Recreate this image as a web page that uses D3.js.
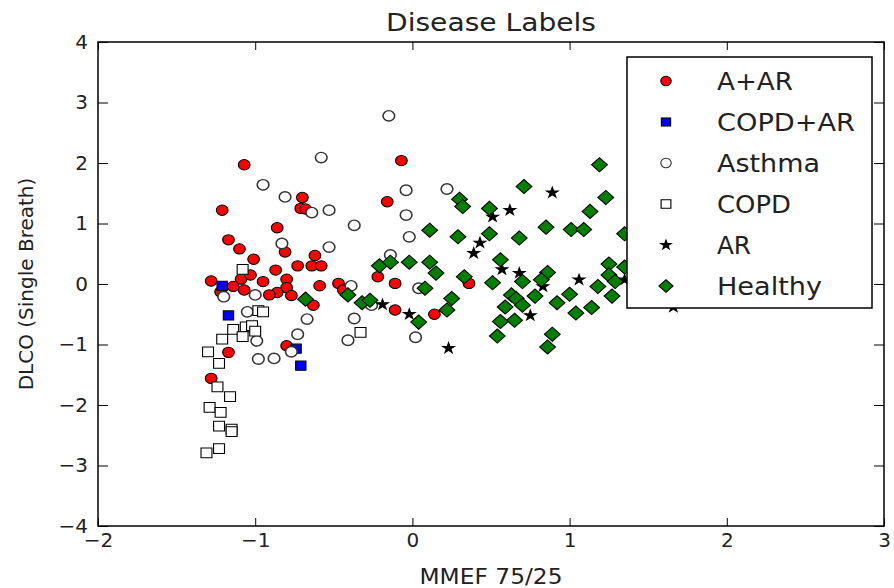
<!DOCTYPE html>
<html>
<head>
<meta charset="utf-8">
<script src="https://cdn.jsdelivr.net/npm/d3@7"></script>
<style>
    body { margin: 0; background: #fff; }
    svg { display: block; font-family: "DejaVu Sans", sans-serif; }
</style>
</head>
<body>
<div id="chart"></div>
<script>
// values: [MMEF 75/25, DLCO]
const aPlusAR = [[-1.07,1.97],[-0.70,1.43],[-0.71,1.25],[-0.68,1.24],[-1.21,1.22],[-0.86,0.93],[-1.17,0.73],[-1.10,0.58],[-0.81,0.53],[-1.01,0.41],[-0.62,0.47],[-0.73,0.30],[-0.64,0.30],[-0.58,0.30],[-0.87,0.23],[-1.28,0.05],[-1.09,0.08],[-1.03,0.15],[-0.80,0.08],[-0.80,-0.06],[-0.59,-0.03],[-0.47,0.01],[-1.07,-0.10],[-0.86,-0.14],[-0.77,-0.19],[-1.22,-0.13],[-0.91,-0.18],[-1.14,-0.04],[-0.95,0.04],[-0.63,-0.35],[-0.80,-1.02],[-1.17,-1.13],[-1.28,-1.56],[-0.07,2.04],[-0.16,1.36],[-0.22,0.12],[-0.11,0.01],[-0.44,-0.10],[-0.11,-0.43],[0.14,-0.50],[0.36,0.01]];
const copdPlusAR = [[-1.21,-0.03],[-1.17,-0.52],[-0.74,-1.07],[-0.71,-1.35]];
const asthma = [[-0.58,2.09],[-0.95,1.64],[-0.81,1.44],[-0.64,1.18],[-0.53,1.22],[-0.37,0.97],[-0.83,0.67],[-0.53,0.61],[-0.39,-0.03],[-1.00,-0.18],[-1.20,-0.21],[-1.05,-0.46],[-0.67,-0.58],[-0.37,-0.57],[-0.41,-0.93],[-0.99,-0.94],[-0.73,-0.83],[-0.77,-1.12],[-0.98,-1.24],[-0.88,-1.23],[-0.15,2.78],[-0.04,1.55],[0.22,1.57],[-0.04,1.14],[-0.02,0.78],[-0.14,0.48],[-0.26,-0.35],[0.04,-0.07],[0.02,-0.88]];
const copd = [[-1.08,0.24],[-0.98,-0.44],[-0.95,-0.46],[-0.33,-0.80],[-1.14,-0.75],[-1.06,-0.71],[-1.02,-0.69],[-1.00,-0.78],[-1.08,-0.87],[-1.21,-0.91],[-1.30,-1.12],[-1.23,-1.31],[-1.24,-1.70],[-1.16,-1.86],[-1.29,-2.04],[-1.22,-2.12],[-1.23,-2.35],[-1.15,-2.40],[-1.15,-2.44],[-1.23,-2.72],[-1.31,-2.79]];
const ar = [[0.51,1.11],[0.62,1.22],[0.43,0.68],[0.39,0.51],[0.57,0.24],[-0.19,-0.34],[-0.02,-0.50],[0.23,-1.06],[0.68,0.18],[0.89,1.51],[0.83,-0.04],[1.06,0.07],[0.75,-0.52],[1.35,0.07],[1.66,-0.38]];
const healthy = [[-0.68,-0.25],[-0.41,-0.18],[-0.32,-0.31],[-0.27,-0.27],[-0.21,0.30],[-0.14,0.36],[-0.02,0.36],[0.11,0.36],[0.15,0.18],[0.30,1.40],[0.32,1.28],[0.49,1.25],[0.71,1.61],[0.11,0.89],[0.29,0.78],[0.49,0.83],[0.68,0.76],[0.56,0.40],[0.08,-0.07],[0.04,-0.63],[0.25,-0.24],[0.22,-0.43],[0.33,0.12],[0.51,0.02],[0.70,0.04],[0.63,-0.18],[0.66,-0.24],[0.59,-0.38],[0.70,-0.35],[0.65,-0.60],[0.56,-0.62],[0.54,-0.86],[1.19,1.97],[1.23,1.43],[1.13,1.20],[0.85,0.94],[1.01,0.90],[1.09,0.90],[1.35,0.83],[0.86,0.19],[0.82,0.07],[1.25,0.33],[1.25,0.15],[1.29,0.04],[1.18,-0.04],[1.27,-0.20],[1.35,0.28],[0.78,-0.20],[1.00,-0.17],[0.92,-0.31],[1.14,-0.39],[1.04,-0.48],[0.89,-0.83],[0.86,-1.04]];

const labels = ["A+AR", "COPD+AR", "Asthma", "COPD", "AR", "Healthy"];
const seriesData = [aPlusAR, copdPlusAR, asthma, copd, ar, healthy];
const xTicks = [-2, -1, 0, 1, 2, 3];
const yTicks = [-4, -3, -2, -1, 0, 1, 2, 3, 4];

// marker styles, in legend order
const styles = [
    { shape: "circle",  fill: "#ff0000", stroke: "#000", size: 85 },
    { shape: "square",  fill: "#0000ff", stroke: "#000", size: 85 },
    { shape: "circle",  fill: "#ffffff", stroke: "#333", size: 85 },
    { shape: "square",  fill: "#ffffff", stroke: "#000", size: 95 },
    { shape: "star",    fill: "#000000", stroke: "#000", size: 34 },
    { shape: "diamond", fill: "#007f00", stroke: "#000", size: 100 }
];
// widths of the (horizontally stretched) texts in the picture
const legendWidths = [76, 138, 103, 74, 34, 105];

const width = 894, height = 588;
const margin = {top: 42, right: 10, bottom: 62, left: 98};

const svg = d3.select("#chart").append("svg")
    .attr("width", width)
    .attr("height", height);

const x = d3.scaleLinear().domain([-2, 3]).range([margin.left, width - margin.right]);
const y = d3.scaleLinear().domain([-4, 4]).range([height - margin.bottom, margin.top]);

function symbolPath(style) {
    const type = style.shape === "circle" ? d3.symbolCircle
        : style.shape === "star" ? d3.symbolStar
        : d3.symbolSquare;
    return d3.symbol().type(type).size(style.size)();
}
function symbolTransform(style, px, py) {
    let t = `translate(${px},${py}) scale(1.12,1)`;
    if (style.shape === "diamond") t += " rotate(45)";
    return t;
}

// points
seriesData.forEach((pts, i) => {
    const st = styles[i];
    svg.append("g").selectAll("path")
        .data(pts)
        .enter()
        .append("path")
        .attr("d", symbolPath(st))
        .attr("transform", d => symbolTransform(st, x(d[0]), y(d[1])))
        .attr("fill", st.fill)
        .attr("stroke", st.stroke)
        .attr("stroke-width", st.shape === "circle" && i === 2 ? 1.4 : 1);
});

// axes, ticks pointing inwards on all four sides
const fmt = d3.format("d");
const axisB = svg.append("g")
    .attr("transform", `translate(0,${y(-4)})`)
    .call(d3.axisBottom(x).tickValues(xTicks).tickFormat(fmt).tickSizeInner(-8).tickSizeOuter(0).tickPadding(7));
const axisT = svg.append("g")
    .attr("transform", `translate(0,${y(4)})`)
    .call(d3.axisTop(x).tickValues(xTicks).tickFormat("").tickSizeInner(-8).tickSizeOuter(0));
const axisL = svg.append("g")
    .attr("transform", `translate(${x(-2)},0)`)
    .call(d3.axisLeft(y).tickValues(yTicks).tickFormat(fmt).tickSizeInner(-10).tickSizeOuter(0).tickPadding(10));
const axisR = svg.append("g")
    .attr("transform", `translate(${x(3)},0)`)
    .call(d3.axisRight(y).tickValues(yTicks).tickFormat("").tickSizeInner(-10).tickSizeOuter(0));

[axisB, axisT, axisL, axisR].forEach(g => {
    g.select(".domain").remove();
    g.selectAll("line").attr("stroke", "#000").attr("stroke-width", 1);
    g.selectAll("text").attr("font-family", "DejaVu Sans").attr("font-size", 20).attr("fill", "#222");
});

// frame
svg.append("rect")
    .attr("x", x(-2)).attr("y", y(4))
    .attr("width", x(3) - x(-2)).attr("height", y(-4) - y(4))
    .attr("fill", "none").attr("stroke", "#000").attr("stroke-width", 1.5);

// title and axis labels
svg.append("text")
    .attr("x", (x(-2) + x(3)) / 2).attr("y", 31)
    .attr("text-anchor", "middle")
    .attr("font-size", 24)
    .attr("textLength", 210).attr("lengthAdjust", "spacingAndGlyphs")
    .attr("fill", "#222")
    .text("Disease Labels");

svg.append("text")
    .attr("x", (x(-2) + x(3)) / 2).attr("y", 584)
    .attr("text-anchor", "middle")
    .attr("font-size", 21)
    .attr("textLength", 143).attr("lengthAdjust", "spacingAndGlyphs")
    .attr("fill", "#222")
    .text("MMEF 75/25");

svg.append("text")
    .attr("transform", `translate(33,${(y(4) + y(-4)) / 2}) rotate(-90)`)
    .attr("text-anchor", "middle")
    .attr("font-size", 20)
    .attr("fill", "#222")
    .text("DLCO (Single Breath)");

// legend
const legend = svg.append("g").attr("transform", "translate(627,57)");
legend.append("rect")
    .attr("width", 245).attr("height", 251)
    .attr("fill", "#fff").attr("stroke", "#000").attr("stroke-width", 1.5);

const rowY = d3.scalePoint().domain(labels).range([24, 229]);
labels.forEach((name, i) => {
    const st = styles[i];
    legend.append("path")
        .attr("d", symbolPath(Object.assign({}, st, {size: st.size * 0.8})))
        .attr("transform", symbolTransform(st, 39, rowY(name)))
        .attr("fill", st.fill)
        .attr("stroke", st.stroke)
        .attr("stroke-width", 1);
    legend.append("text")
        .attr("x", 90).attr("y", rowY(name))
        .attr("dy", "0.36em")
        .attr("font-size", 25)
        .attr("textLength", legendWidths[i]).attr("lengthAdjust", "spacingAndGlyphs")
        .attr("fill", "#222")
        .text(name);
});
</script>
</body>
</html>
